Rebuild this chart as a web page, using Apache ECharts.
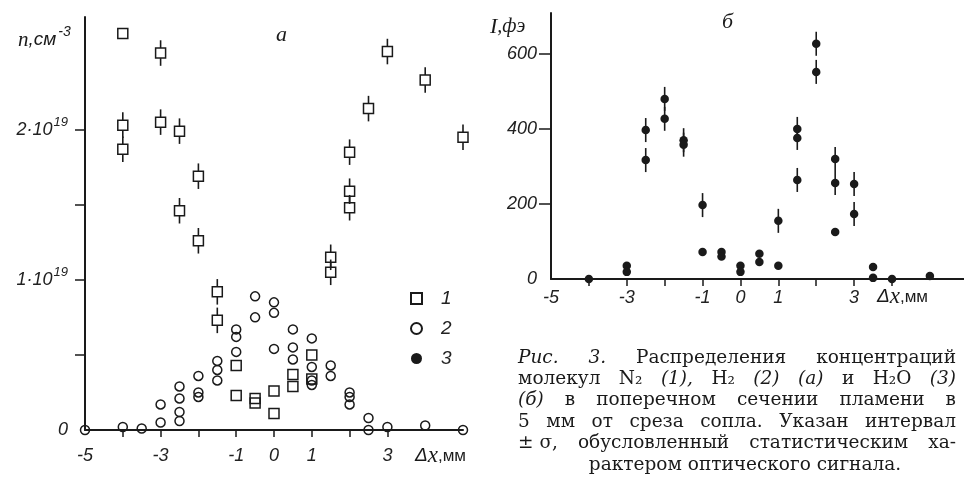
<!DOCTYPE html>
<html><head><meta charset="utf-8">
<script src="https://cdn.jsdelivr.net/npm/echarts@6/dist/echarts.min.js"></script>
<style>html,body{margin:0;padding:0;background:#fff}#c{width:964px;height:479px}</style>
</head><body><div id="c"></div>
<script>
// ---- Panel a: N2 (1) squares with ±σ, H2 (2) circles ----
const n2X   = [-4, -4, -4, -3, -3, -2.5, -2.5, -2, -2, -1.5, -1.5, -1, -1, -0.5, -0.5, 0, 0, 0.5, 0.5, 1, 1, 1.5, 1.5, 2, 2, 2, 2.5, 3, 4, 5];
const n2Y   = [2.64, 2.03, 1.87, 2.51, 2.05, 1.99, 1.46, 1.69, 1.26, 0.92, 0.73, 0.43, 0.23, 0.21, 0.18, 0.26, 0.11, 0.37, 0.29, 0.50, 0.34, 1.15, 1.05, 1.85, 1.59, 1.48, 2.14, 2.52, 2.33, 1.95];
const n2Err = [0, .085, .085, .085, .085, .085, .085, .085, .085, .085, .085, 0, 0, 0, 0, 0, 0, 0, 0, 0, 0, .085, .085, .085, .085, .085, .085, .085, .085, .085];
const h2X = [-5, -4, -3.5, -3, -3, -2.5, -2.5, -2.5, -2.5, -2, -2, -2, -1.5, -1.5, -1.5, -1, -1, -1, -0.5, -0.5, 0, 0, 0, 0.5, 0.5, 0.5, 1, 1, 1, 1, 1.5, 1.5, 2, 2, 2, 2.5, 2.5, 3, 4, 5];
const h2Y = [0, 0.02, 0.01, 0.17, 0.05, 0.29, 0.21, 0.12, 0.06, 0.36, 0.25, 0.22, 0.46, 0.40, 0.33, 0.67, 0.62, 0.52, 0.89, 0.75, 0.85, 0.78, 0.54, 0.67, 0.55, 0.47, 0.61, 0.42, 0.33, 0.30, 0.43, 0.36, 0.25, 0.22, 0.17, 0.08, 0, 0.02, 0.03, 0];
// ---- Panel б: H2O (3) dots with ±σ ----
const h2oX   = [-4, -3, -3, -2.5, -2.5, -2, -2, -1.5, -1.5, -1, -1, -0.5, -0.5, 0, 0, 0.5, 0.5, 1, 1, 1.5, 1.5, 1.5, 2, 2, 2.5, 2.5, 2.5, 3, 3, 3.5, 3.5, 4, 5];
const h2oY   = [0, 35, 19, 397, 317, 480, 427, 370, 358, 197, 72, 72, 60, 35, 19, 67, 45, 155, 35, 400, 376, 264, 627, 552, 320, 256, 125, 253, 173, 32, 3, 0, 8];
const h2oErr = [0, 0, 0, 32, 32, 32, 32, 32, 32, 32, 0, 0, 0, 0, 0, 0, 0, 32, 0, 32, 32, 32, 32, 32, 32, 32, 0, 32, 32, 0, 0, 0, 0];
// ---- tick labels ----
const xLabelsA = [-5, -3, -1, 0, 1, 3];
const xTicksA  = [-4, -3, -2, -1, 0, 1, 2, 3];
const yLabelsA = [0, 1, 2];
const yTicksA  = [0.5, 1, 1.5, 2];
const xLabelsB = [-5, -3, -1, 0, 1, 3];
const xTicksB  = [-4, -3, -2, -1, 0, 1, 2, 3, 4];
const yLabelsB = [0, 200, 400, 600];
const yTicksB  = [200, 400, 600];

const captionLines = [
  [['Рис.', 1], ['3.', 1], ['Распределения', 0], ['концентраций', 0]],
  [['молекул', 0], ['N₂', 0], ['(1),', 1], ['H₂', 0], ['(2)', 1], ['(а)', 1], ['и', 0], ['H₂O', 0], ['(3)', 1]],
  [['(б)', 1], ['в', 0], ['поперечном', 0], ['сечении', 0], ['пламени', 0], ['в', 0]],
  [['5', 0], ['мм', 0], ['от', 0], ['среза', 0], ['сопла.', 0], ['Указан', 0], ['интервал', 0]],
  [['± σ,', 0], ['обусловленный', 0], ['статистическим', 0], ['ха-', 0]],
  [['рактером оптического сигнала.', 0]]
];

const INK = '#1a1a1a';
const LBL = {fontFamily: 'Liberation Sans', fontStyle: 'italic', fontSize: 18, color: '#222'};

const chart = echarts.init(document.getElementById('c'), null, {renderer: 'canvas'});

function errBar(half) {
  return function (params, api) {
    const x = api.value(0), y = api.value(1), e = api.value(2);
    if (!e) return null;
    const c = api.coord([x, y]);
    const t = api.coord([x, y + e]);
    const b = api.coord([x, y - e]);
    return {type: 'group', children: [
      {type: 'line', shape: {x1: c[0], y1: t[1], x2: c[0], y2: c[1] - half}, style: {stroke: INK, lineWidth: 1.6}},
      {type: 'line', shape: {x1: c[0], y1: c[1] + half, x2: c[0], y2: b[1]}, style: {stroke: INK, lineWidth: 1.6}}
    ]};
  };
}

// caption layout (justified)
const mctx = document.createElement('canvas').getContext('2d');
const CAP = 18.5;
const capFont = it => (it ? 'italic ' : '') + CAP + 'px "DejaVu Serif"';
const capY = [358, 379, 400, 422, 443, 465];
const capL = 518, capR = 956;
const graphics = [];
captionLines.forEach((line, li) => {
  const w = line.map(t => { mctx.font = capFont(t[1]); return mctx.measureText(t[0]).width; });
  const sum = w.reduce((a, b) => a + b, 0);
  if (li === captionLines.length - 1) {
    graphics.push({type: 'text', x: 745, y: capY[li], style: {text: line[0][0], font: capFont(0), fill: INK, align: 'center', verticalAlign: 'middle'}});
    return;
  }
  const gap = (capR - capL - sum) / (line.length - 1);
  let x = capL;
  line.forEach((t, i) => {
    graphics.push({type: 'text', x: x, y: capY[li], style: {text: t[0], font: capFont(t[1]), fill: INK, align: 'left', verticalAlign: 'middle'}});
    x += w[i] + gap;
  });
});

const dxRich = {a: {fontFamily: 'Liberation Sans', fontStyle: 'italic', fontSize: 19, fill: INK},
                x: {fontFamily: 'Liberation Serif', fontStyle: 'italic', fontSize: 23, fill: INK},
                b: {fontFamily: 'Liberation Sans', fontSize: 17, fill: INK}};
// panel labels
graphics.push(
  {type: 'text', x: 276, y: 35, style: {text: 'а', font: 'italic 22px "Liberation Serif"', fill: INK, verticalAlign: 'middle'}},
  {type: 'text', x: 722, y: 22, style: {text: 'б', font: 'italic 22px "Liberation Serif"', fill: INK, verticalAlign: 'middle'}},
  {type: 'text', x: 18, y: 40, style: {text: '{a|n}{b|,см}{s|-3}', fill: INK, verticalAlign: 'middle',
    rich: {a: {fontFamily: 'Liberation Serif', fontStyle: 'italic', fontSize: 21, fill: INK},
           b: {fontFamily: 'Liberation Sans', fontStyle: 'italic', fontSize: 19, fill: INK},
           s: {fontFamily: 'Liberation Sans', fontStyle: 'italic', fontSize: 14, fill: INK, padding: [0, 0, 16, 2]}}}},
  {type: 'text', x: 490, y: 27, style: {text: '{a|I}{b|,фэ}', fill: INK, verticalAlign: 'middle',
    rich: {a: {fontFamily: 'Liberation Serif', fontStyle: 'italic', fontSize: 22, fill: INK},
           b: {fontFamily: 'Liberation Serif', fontStyle: 'italic', fontSize: 20, fill: INK}}}},
  {type: 'text', x: 415, y: 456, style: {text: '{a|Δ}{x|x}{b|,мм}', fill: INK, verticalAlign: 'middle', rich: dxRich}},
  {type: 'text', x: 877, y: 297, style: {text: '{a|Δ}{x|x}{b|,мм}', fill: INK, verticalAlign: 'middle', rich: dxRich}}
);

const axisBase = {
  axisLine: {onZero: false, lineStyle: {color: INK, width: 2}},
  splitLine: {show: false}
};

const option = {
  animation: false,
  backgroundColor: '#fff',
  grid: [
    {left: 85, top: 17, width: 378, height: 413},
    {left: 551, top: 13, width: 413, height: 266}
  ],
  xAxis: [
    Object.assign({}, axisBase, {gridIndex: 0, type: 'value', min: -5, max: 5,
      axisTick: {show: true, inside: false, length: 7, customValues: xTicksA, lineStyle: {color: INK, width: 1.5}},
      axisLabel: Object.assign({}, LBL, {margin: 17, customValues: xLabelsA, formatter: v => (v < 0 ? '-' + (-v) : '' + v)})}),
    Object.assign({}, axisBase, {gridIndex: 1, type: 'value', min: -5, max: 5.9,
      axisTick: {show: true, inside: false, length: 7, customValues: xTicksB, lineStyle: {color: INK, width: 1.5}},
      axisLabel: Object.assign({}, LBL, {margin: 10, customValues: xLabelsB, formatter: v => (v < 0 ? '-' + (-v) : '' + v)})})
  ],
  yAxis: [
    Object.assign({}, axisBase, {gridIndex: 0, type: 'value', min: 0, max: 2.75,
      axisTick: {show: true, length: 10, customValues: yTicksA, lineStyle: {color: INK, width: 1.5}},
      axisLabel: Object.assign({}, LBL, {margin: 17, customValues: yLabelsA,
        formatter: v => (v === 0 ? '{b|0}' : '{b|' + v + '·10}{s|19}'),
        rich: {b: {fontFamily: 'Liberation Sans', fontStyle: 'italic', fontSize: 18, color: '#222'},
               s: {fontFamily: 'Liberation Sans', fontStyle: 'italic', fontSize: 13, color: '#222', padding: [0, 0, 14, 1]}}})}),
    Object.assign({}, axisBase, {gridIndex: 1, type: 'value', min: 0, max: 709,
      axisTick: {show: true, length: 12, customValues: yTicksB, lineStyle: {color: INK, width: 1.5}},
      axisLabel: Object.assign({}, LBL, {margin: 14, customValues: yLabelsB})})
  ],
  legend: {
    orient: 'vertical', left: 405, top: 284, itemWidth: 11, itemHeight: 11, itemGap: 11,
    data: ['1', '2', '3'],
    textStyle: {fontFamily: 'Liberation Sans', fontStyle: 'italic', fontSize: 19, color: '#222', padding: [0, 0, 0, 14]}
  },
  graphic: graphics,
  series: [
    {type: 'custom', xAxisIndex: 0, yAxisIndex: 0, renderItem: errBar(5), clip: false, silent: true,
     data: n2X.map((x, i) => [x, n2Y[i], n2Err[i]]), z: 2},
    {name: '1', type: 'scatter', xAxisIndex: 0, yAxisIndex: 0, symbol: 'rect', symbolSize: 10,
     itemStyle: {color: 'rgba(255,255,255,0)', borderColor: INK, borderWidth: 1.5, opacity: 1},
     data: n2X.map((x, i) => [x, n2Y[i]]), z: 3},
    {name: '2', type: 'scatter', xAxisIndex: 0, yAxisIndex: 0, symbol: 'circle', symbolSize: 9,
     itemStyle: {color: 'rgba(255,255,255,0)', borderColor: INK, borderWidth: 1.5, opacity: 1},
     data: h2X.map((x, i) => [x, h2Y[i]]), z: 3},
    {type: 'custom', xAxisIndex: 1, yAxisIndex: 1, renderItem: errBar(0), clip: false, silent: true,
     data: h2oX.map((x, i) => [x, h2oY[i], h2oErr[i]]), z: 2},
    {name: '3', type: 'scatter', xAxisIndex: 1, yAxisIndex: 1, symbol: 'circle', symbolSize: 8.5,
     itemStyle: {color: INK, opacity: 1}, data: h2oX.map((x, i) => [x, h2oY[i]]), z: 3}
  ]
};
chart.setOption(option);
</script></body></html>
